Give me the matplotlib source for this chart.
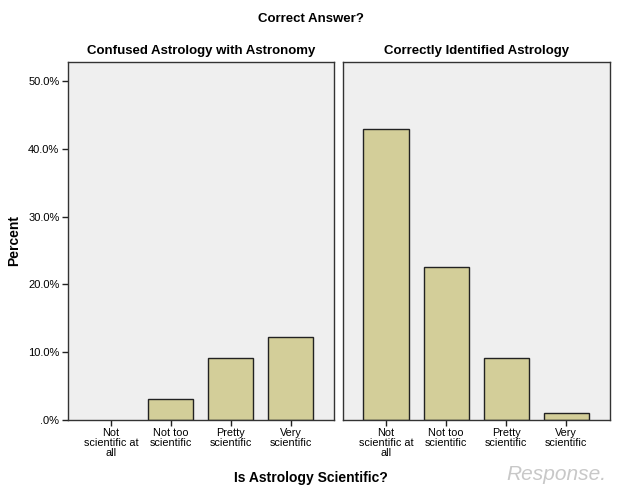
import matplotlib
matplotlib.use('Agg')
import matplotlib.pyplot as plt
from matplotlib.ticker import FuncFormatter

plt.rcParams['font.family'] = ['Liberation Sans', 'DejaVu Sans']

categories = ['Not\nscientific at\nall', 'Not too\nscientific', 'Pretty\nscientific', 'Very\nscientific']
confused = [0.0, 3.1, 9.2, 12.3]
correct = [42.9, 22.5, 9.2, 1.0]
panel_titles = ['Confused Astrology with Astronomy', 'Correctly Identified Astrology']

fig = plt.figure(figsize=(6.22, 5), dpi=100)
ax1 = fig.add_axes([0.109, 0.16, 0.428, 0.716])
ax2 = fig.add_axes([0.551, 0.16, 0.429, 0.716])

for ax, vals, title in [(ax1, confused, panel_titles[0]), (ax2, correct, panel_titles[1])]:
    ax.set_facecolor('#efefef')
    x = range(len(categories))
    bars = ax.bar(x, vals, width=0.75, color='#d3ce99', edgecolor='#222222', linewidth=1)
    # empty categories show no bar at all
    for b, v in zip(bars, vals):
        if v == 0:
            b.set_visible(False)
    ax.set_xlim(-0.72, 3.72)
    ax.set_ylim(0, 52.8)
    ax.set_xticks(list(x))
    ax.set_xticklabels(categories, fontsize=7.8, linespacing=0.95)
    ax.set_yticks([0, 10, 20, 30, 40, 50])
    ax.tick_params(axis='both', direction='out', length=4, width=1, color='#222222', pad=2)
    for s in ax.spines.values():
        s.set_color('#333333')
        s.set_linewidth(1)
    ax.set_title(title, fontsize=9.5, fontweight='bold', pad=6)

ax1.yaxis.set_major_formatter(FuncFormatter(lambda v, p: '.0%' if v == 0 else f'{v:.1f}%'))
ax1.tick_params(axis='y', labelsize=8)
ax2.tick_params(axis='y', left=False, labelleft=False)

fig.text(0.5, 0.962, 'Correct Answer?', ha='center', va='center', fontsize=9.5, fontweight='bold')
fig.text(0.023, 0.518, 'Percent', ha='center', va='center', rotation=90, fontsize=10, fontweight='bold')
fig.text(0.5, 0.044, 'Is Astrology Scientific?', ha='center', va='center', fontsize=10, fontweight='bold')
fig.text(0.975, 0.05, 'Response.', ha='right', va='center', fontsize=15, fontstyle='italic', color='#c8c8c8')

fig.savefig('out.png', dpi=100)
